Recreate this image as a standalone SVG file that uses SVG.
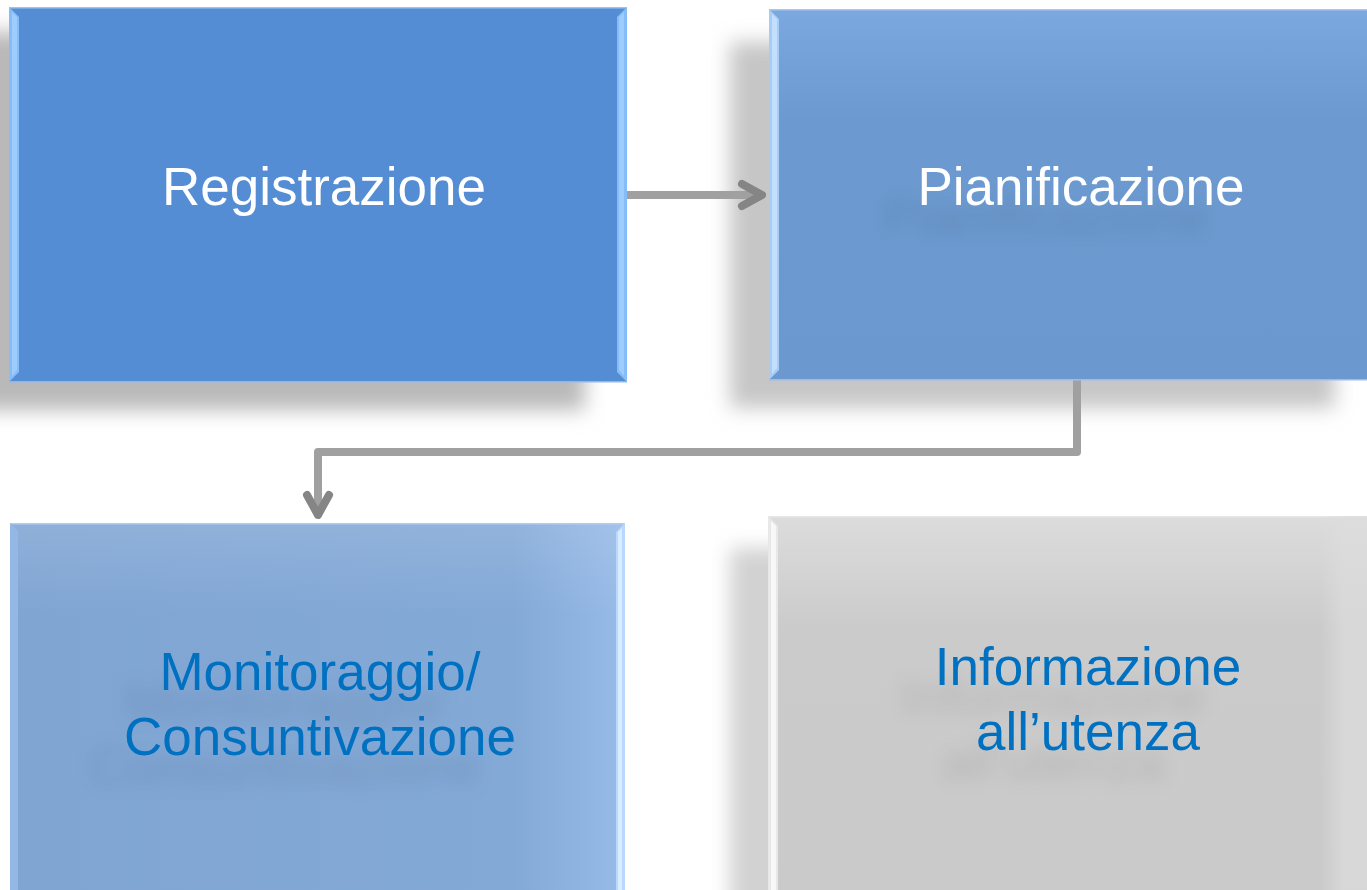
<svg xmlns="http://www.w3.org/2000/svg" width="1367" height="890" viewBox="0 0 1367 890">
  <defs>
    <style>
      .lbl { font-family: "Liberation Sans", Arial, sans-serif; font-size: 53px; text-anchor: middle; }
      .white { fill: #ffffff; }
      .blue { fill: #0070C0; }
      .conn { fill: none; stroke: #a0a0a0; stroke-width: 8; stroke-linejoin: round; }
    </style>
    <filter id="shadowBlur" x="-20%" y="-20%" width="140%" height="140%">
      <feGaussianBlur stdDeviation="10"/>
    </filter>
    <filter id="textShadow" x="-30%" y="-50%" width="160%" height="250%">
      <feGaussianBlur in="SourceAlpha" stdDeviation="9" result="b"/>
      <feOffset in="b" dx="-35" dy="30" result="o"/>
      <feFlood flood-color="#000" flood-opacity="0.11"/>
      <feComposite in2="o" operator="in" result="s"/>
      <feMerge>
        <feMergeNode in="s"/>
        <feMergeNode in="SourceGraphic"/>
      </feMerge>
    </filter>
    <linearGradient id="g2" x1="0" y1="0" x2="0" y2="1">
      <stop offset="0" stop-color="#7ba8de"/>
      <stop offset="0.3" stop-color="#6c9ad0"/>
      <stop offset="1" stop-color="#6b99cf"/>
    </linearGradient>
    <linearGradient id="g3" x1="0" y1="0" x2="1" y2="0">
      <stop offset="0" stop-color="#80a5d3"/>
      <stop offset="0.82" stop-color="#83a9d7"/>
      <stop offset="1" stop-color="#98bbe8"/>
    </linearGradient>
    <linearGradient id="g3v" x1="0" y1="0" x2="0" y2="1">
      <stop offset="0" stop-color="#ffffff" stop-opacity="0.12"/>
      <stop offset="0.25" stop-color="#ffffff" stop-opacity="0"/>
    </linearGradient>
    <linearGradient id="g4" x1="0" y1="0" x2="0" y2="1">
      <stop offset="0" stop-color="#dcdcdc"/>
      <stop offset="0.3" stop-color="#cbcbcb"/>
      <stop offset="1" stop-color="#cacaca"/>
    </linearGradient>
    <linearGradient id="g4r" x1="0" y1="0" x2="1" y2="0">
      <stop offset="0" stop-color="#dddddd" stop-opacity="0"/>
      <stop offset="0.5" stop-color="#dddddd" stop-opacity="0.7"/>
      <stop offset="1" stop-color="#dddddd" stop-opacity="0.7"/>
    </linearGradient>
    <marker id="chev" markerUnits="userSpaceOnUse" viewBox="-24 -18 32 36" refX="0" refY="0" markerWidth="32" markerHeight="36" orient="auto">
      <path d="M-16,-11 L4,0 L-16,11" fill="none" stroke="#858585" stroke-width="8" stroke-linecap="round" stroke-linejoin="round"/>
    </marker>
  </defs>

  <rect width="1367" height="890" fill="#ffffff"/>

  <!-- shadows -->
  <g id="shadows">
    <rect x="-40" y="32" width="625" height="378" fill="#b9b9b9" filter="url(#shadowBlur)"/>
    <rect x="730" y="42" width="605" height="366" fill="#c6c6c6" filter="url(#shadowBlur)"/>
    <rect x="730" y="548" width="620" height="380" fill="#d2d2d2" filter="url(#shadowBlur)"/>
  </g>

  <!-- connectors -->
  <g id="connectors">
    <path class="conn" d="M627,195 L758,195" marker-end="url(#chev)"/>
    <path class="conn" d="M1077,380 L1077,452 L318,452 L318,511" marker-end="url(#chev)"/>
  </g>

  <g id="node-registrazione">
    <rect x="9" y="7" width="618" height="375" fill="#548dd4"/>
    <rect x="9" y="7" width="618" height="1.5" fill="#9fc3ee"/>
    <polygon points="9,7 19,17 19,372 9,382" fill="#86bcf8"/>
    <polygon points="12,12 17,17 17,370 12,376" fill="#a8d3ff" opacity="0.7"/>
    <polygon points="627,7 617,17 617,372 627,382" fill="#86bcf8"/>
    <polygon points="624,12 619,17 619,370 624,376" fill="#a8d3ff" opacity="0.7"/>
    <rect x="9" y="381" width="618" height="1.5" fill="#8fb8ea"/>
    <text class="lbl white" x="324" y="205">Registrazione</text>
  </g>

  <g id="node-pianificazione">
    <rect x="769" y="9" width="598" height="371" fill="url(#g2)"/>
    <rect x="769" y="9" width="598" height="1.5" fill="#a9c7ec"/>
    <polygon points="769,9 779,19 779,370 769,380" fill="#a7cdf6"/>
    <polygon points="772,14 777,19 777,368 772,374" fill="#c9e3ff" opacity="0.8"/>
    <rect x="769" y="379" width="598" height="1.5" fill="#9bbde6"/>
    <text class="lbl white" x="1081" y="205" filter="url(#textShadow)">Pianificazione</text>
  </g>

  <g id="node-monitoraggio">
    <rect x="10" y="523" width="615" height="367" fill="url(#g3)"/>
    <rect x="10" y="523" width="615" height="367" fill="url(#g3v)"/>
    <rect x="10" y="523" width="615" height="1.5" fill="#b3cdee"/>
    <polygon points="10,523 18,531 18,890 10,890" fill="#93b8e6"/>
    <polygon points="625,523 616,532 616,890 625,890" fill="#b9d8fb"/>
    <polygon points="622,528 618,532 618,890 622,890" fill="#dcefff" opacity="0.9"/>
    <text class="lbl blue" filter="url(#textShadow)"><tspan x="320" y="690">Monitoraggio/</tspan><tspan x="320" y="755">Consuntivazione</tspan></text>
  </g>

  <g id="node-informazione">
    <rect x="768" y="516" width="599" height="374" fill="url(#g4)"/>
    <rect x="768" y="516" width="599" height="1.5" fill="#e6e6e6"/>
    <rect x="1320" y="516" width="47" height="374" fill="url(#g4r)"/>
    <polygon points="768,516 778,526 778,890 768,890" fill="#e8e8e8"/>
    <polygon points="771,521 776,526 776,890 771,890" fill="#f8f8f8"/>
    <text class="lbl blue" filter="url(#textShadow)"><tspan x="1088" y="685">Informazione</tspan><tspan x="1088" y="750">all’utenza</tspan></text>
  </g>
</svg>
